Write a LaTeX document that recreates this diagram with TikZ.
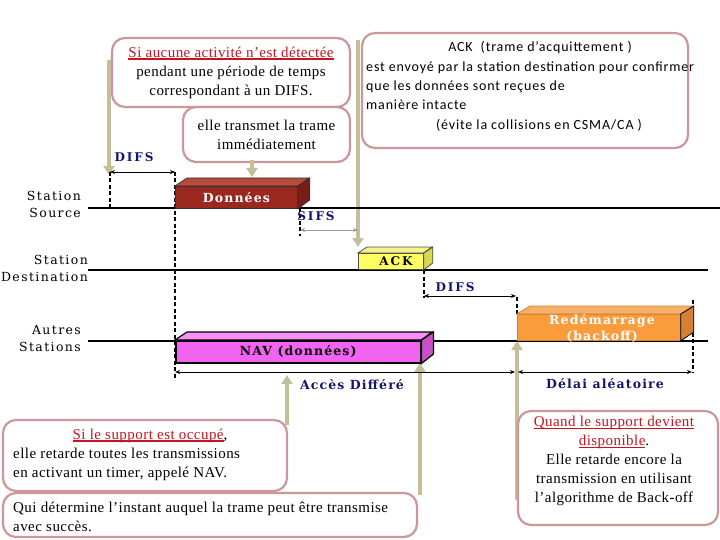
\documentclass[tikz,border=0pt]{standalone}
\usepackage{fontspec}
\setmainfont{Liberation Serif}[LetterSpace=3]
\newfontfamily\carlito{Carlito}[LetterSpace=6]
\newfontfamily\lsfont[LetterSpace=11]{DejaVu Serif}
\newfontfamily\bfls[LetterSpace=9]{DejaVu Serif}
\newfontfamily\bflsw[LetterSpace=16]{DejaVu Serif}
\newcommand\myul[1]{\setbox0\hbox{#1}\rlap{\rule[-2.8pt]{\wd0}{1.5pt}}\box0}
\usetikzlibrary{arrows.meta}
\definecolor{callborder}{RGB}{205,150,155}
\definecolor{tanc}{RGB}{196,190,155}
\definecolor{ulred}{RGB}{200,20,30}
\definecolor{navyc}{RGB}{20,20,110}
\definecolor{donF}{RGB}{155,40,30}
\definecolor{donT}{RGB}{180,75,60}
\definecolor{donS}{RGB}{120,30,25}
\definecolor{ackF}{RGB}{255,255,100}
\definecolor{ackT}{RGB}{245,245,140}
\definecolor{ackS}{RGB}{215,215,80}
\definecolor{navF}{RGB}{240,100,240}
\definecolor{navT}{RGB}{245,145,245}
\definecolor{navS}{RGB}{200,80,200}
\definecolor{orF}{RGB}{250,155,60}
\definecolor{orT}{RGB}{245,175,105}
\definecolor{orS}{RGB}{210,130,50}
\begin{document}
\begin{tikzpicture}[x=1pt,y=-1pt,
  callout/.style={draw=callborder, line width=2.2pt, rounded corners=13pt, fill=white, inner sep=0pt},
  txt/.style={inner sep=0pt, font=\fontsize{15}{19}\selectfont},
  ctxt/.style={inner sep=0pt, font=\carlito\fontsize{14}{19}\selectfont},
  tanarrow/.style={draw=tanc, line width=4pt, -{Triangle[width=11pt,length=9pt]}},
  timeline/.style={line width=1.5pt},
  vdash/.style={line width=1.5pt, dash pattern=on 4pt off 2.5pt},
  dimar/.style={line width=0.9pt, {Stealth[length=5pt,width=4pt]}-{Stealth[length=5pt,width=4pt]}},
  stlab/.style={inner sep=0pt, font=\lsfont\fontsize{12.5}{16}\selectfont},
  lab/.style={inner sep=0pt, text=navyc, font=\bflsw\bfseries\fontsize{12}{13}\selectfont},
  lab13/.style={inner sep=0pt, text=navyc, font=\bfls\bfseries\fontsize{12.5}{14}\selectfont},
  blk/.style={anchor=north west, inner sep=0pt, line width=0.8pt, font=\bfls\bfseries\fontsize{12.5}{15}\selectfont, align=center},
  blktxt/.style={inner sep=0pt, font=\bfls\bfseries\fontsize{12.5}{16.5}\selectfont, align=center}
]
\useasboundingbox (0,0) rectangle (720,540);

% tan arrows (behind callouts)
\coordinate (t1s) at (109,60);  \coordinate (t1e) at (109,175);
\coordinate (t2s) at (252,160); \coordinate (t2e) at (252,177);
\coordinate (t3s) at (358,40);  \coordinate (t3e) at (358,247);
\coordinate (b1s) at (287,425); \coordinate (b1e) at (287,375);
\coordinate (b2s) at (420,495); \coordinate (b2e) at (420,363);
\coordinate (b3s) at (517,500); \coordinate (b3e) at (517,341);
\draw[tanarrow] (t1s) -- (t1e);
\draw[tanarrow] (t3s) -- (t3e);
\draw[tanarrow] (b1s) -- (b1e);
\draw[tanarrow] (b2s) -- (b2e);
\draw[tanarrow] (b3s) -- (b3e);

% timelines
\coordinate (srcL) at (88,208); \coordinate (srcR) at (720,208);
\coordinate (dstL) at (88,270); \coordinate (dstR) at (708,270);
\coordinate (autL) at (88,341); \coordinate (autR) at (708,341);
\draw[timeline] (srcL) -- (srcR);
\draw[timeline] (dstL) -- (dstR);
\draw[timeline] (autL) -- (autR);

% station labels
\node[stlab, anchor=base east] (ss1) at (81,201) {Station};
\node[stlab, anchor=base east] (ss2) at (81,218) {Source};
\node[stlab, anchor=base east] (sd1) at (88,264) {Station};
\node[stlab, anchor=base east] (sd2) at (88,281) {Destination};
\node[stlab, anchor=base east] (sa1) at (81,334) {Autres};
\node[stlab, anchor=base east] (sa2) at (81,351) {Stations};

% dashed verticals
\coordinate (d1a) at (110,172); \coordinate (d1b) at (110,208);
\coordinate (d2a) at (175,172); \coordinate (d2b) at (175,380);
\coordinate (d3a) at (300,208); \coordinate (d3b) at (300,236);
\coordinate (d4a) at (424,270); \coordinate (d4b) at (424,298);
\coordinate (d5a) at (517,297); \coordinate (d5b) at (517,314);
\coordinate (d6a) at (693,300); \coordinate (d6b) at (693,373);
\draw[vdash] (d1a) -- (d1b);
\draw[vdash] (d2a) -- (d2b);
\draw[vdash] (d3a) -- (d3b);
\draw[vdash] (d4a) -- (d4b);
\draw[vdash] (d5a) -- (d5b);
\draw[vdash] (d6a) -- (d6b);

% dimension arrows
\coordinate (difsA) at (110,172); \coordinate (difsB) at (175,172);
\coordinate (sifsA) at (300,230); \coordinate (sifsB) at (358,230);
\coordinate (dif2A) at (424,296); \coordinate (dif2B) at (516,296);
\coordinate (accA) at (175,372); \coordinate (accB) at (515,372);
\coordinate (delA) at (518,372); \coordinate (delB) at (692,372);
\draw[dimar] (difsA) -- (difsB);
\draw[dimar, draw=gray!80] (sifsA) -- (sifsB);
\draw[dimar] (dif2A) -- (dif2B);
\draw[dimar] (accA) -- (accB);
\draw[dimar] (delA) -- (delB);
\node[lab] (difs) at (134,157) {DIFS};
\node[lab] (sifs) at (316,216) {SIFS};
\node[lab] (difs2) at (455,287) {DIFS};
\node[lab13] (acces) at (352,385) {Accès Différé};
\node[lab13] (delai) at (605,384) {Délai aléatoire};

% blocks
\node[blk, fill=donF, draw=black!80, text=white, minimum width=122pt, minimum height=22pt] (don) at (175,186) {Données};
\filldraw[fill=donT, draw=black!80, line width=0.8pt] (don.north west) -- ++(12,-8) -- ++(122,0) -- (don.north east) -- cycle;
\filldraw[fill=donS, draw=black!80, line width=0.8pt] (don.north east) -- ++(12,-8) -- ++(0,22) -- (don.south east) -- cycle;

\node[blk, fill=ackF, draw=black!70, text=black, minimum width=65pt, minimum height=16pt, font=\bflsw\bfseries\fontsize{12}{13}\selectfont] (ack) at (358,253) {\hspace{10pt}ACK};
\filldraw[fill=ackT, draw=black!70, line width=0.8pt] (ack.north west) -- ++(9,-6) -- ++(65,0) -- (ack.north east) -- cycle;
\filldraw[fill=ackS, draw=black!70, line width=0.8pt] (ack.north east) -- ++(9,-6) -- ++(0,16) -- (ack.south east) -- cycle;

\node[blk, fill=navF, draw=black, line width=1.5pt, text=black, minimum width=245pt, minimum height=22pt] (nav) at (175,340) {NAV (données)};
\filldraw[fill=navT, draw=black, line width=1.2pt] (nav.north west) -- ++(12,-8) -- ++(245,0) -- (nav.north east) -- cycle;
\filldraw[fill=navS, draw=black, line width=1.2pt] (nav.north east) -- ++(12,-8) -- ++(0,22) -- (nav.south east) -- cycle;

\node[blk, fill=orF, draw=orS, minimum width=163pt, minimum height=26pt] (orb) at (517,314) {};
\filldraw[fill=orT, draw=orS, line width=0.8pt] (orb.north west) -- ++(13,-8) -- ++(163,0) -- (orb.north east) -- cycle;
\filldraw[fill=orS, draw=black, line width=0.8pt] (orb.north east) -- ++(13,-8) -- ++(0,26) -- (orb.south east) -- cycle;
\node[blktxt, text=white] (orbt) at (602,328.5) {Redémarrage\\(backoff)};

% callouts top
\node[callout, txt, minimum width=238pt, minimum height=69pt, align=center] (boxA) at (231,72.5)
  {\textcolor{ulred}{\myul{Si aucune activité n’est détectée}}\\pendant une période de temps\\correspondant à un DIFS.};
\node[callout, txt, minimum width=167pt, minimum height=55pt, align=center] (boxB) at (266.5,134.5)
  {elle transmet la trame\\immédiatement};
\draw[tanarrow] (t2s) -- (t2e);

\node[callout, minimum width=326pt, minimum height=115pt] (boxC) at (525,90.5) {};
\node[ctxt, anchor=base] (c1) at (540,52) {ACK\ \ (trame d’acquittement )};
\node[ctxt, anchor=base west] (c2) at (366,72) {est envoyé par la station destination pour confirmer};
\node[ctxt, anchor=base west] (c3) at (366,91) {que les données sont reçues de};
\node[ctxt, anchor=base west] (c4) at (366,110) {manière intacte};
\node[ctxt, anchor=base] (c5) at (539,130) {(évite la collisions en CSMA/CA )};

% callouts bottom
\node[callout, minimum width=284pt, minimum height=71pt] (boxD) at (145,455.5) {};
\node[txt, anchor=base] (d1) at (150,439) {\textcolor{ulred}{\myul{Si le support est occupé}},};
\node[txt, anchor=base west] (d2) at (13,458) {elle retarde toutes les transmissions};
\node[txt, anchor=base west] (d3) at (13,477) {en activant un timer, appelé NAV.};

\node[callout, minimum width=414pt, minimum height=44pt] (boxE) at (210,515) {};
\node[txt, anchor=base west] (e1) at (13,512) {Qui détermine l’instant auquel la trame peut être transmise};
\node[txt, anchor=base west] (e2) at (13,531) {avec succès.};

\node[callout, minimum width=200pt, minimum height=114pt] (boxF) at (618,468) {};
\node[txt, align=center] (f1) at (614,461)
  {\textcolor{ulred}{\myul{Quand le support devient}}\\\textcolor{ulred}{\myul{disponible}}.\\Elle retarde encore la\\transmission en utilisant\\l’algorithme de Back-off};
\end{tikzpicture}
\end{document}
